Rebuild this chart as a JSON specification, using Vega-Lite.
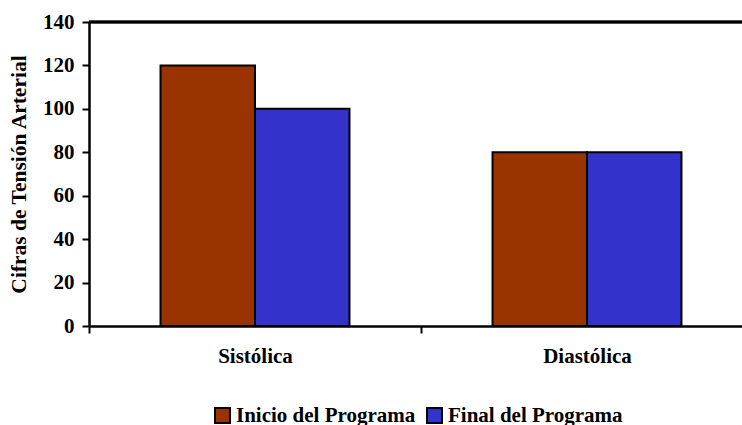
{
  "$schema": "https://vega.github.io/schema/vega-lite/v6.json",
  "autosize": "none",
  "padding": {"left": 89, "top": 22, "right": 0, "bottom": 99},
  "width": 653,
  "height": 304,
  "background": "white",
  "config": {
    "font": "Times New Roman, Liberation Serif, serif",
    "view": {"stroke": null},
    "axis": {
      "labelFont": "Times New Roman, Liberation Serif, serif",
      "labelFontWeight": "bold",
      "labelFontSize": 21,
      "labelColor": "black",
      "titleFont": "Times New Roman, Liberation Serif, serif",
      "titleFontWeight": "bold",
      "titleFontSize": 21.5,
      "titleColor": "black",
      "domainColor": "black",
      "domainWidth": 2.5,
      "tickColor": "black",
      "tickWidth": 2,
      "tickSize": 7,
      "grid": false
    },
    "legend": {
      "labelFont": "Times New Roman, Liberation Serif, serif",
      "labelFontWeight": "bold",
      "labelFontSize": 21,
      "labelColor": "black",
      "labelLimit": 400
    }
  },
  "data": {
    "values": [
      {"medida": "Sistólica", "serie": "Inicio del Programa", "valor": 120},
      {"medida": "Sistólica", "serie": "Final del Programa", "valor": 100},
      {"medida": "Diastólica", "serie": "Inicio del Programa", "valor": 80},
      {"medida": "Diastólica", "serie": "Final del Programa", "valor": 80}
    ]
  },
  "layer": [
    {
      "mark": {"type": "bar", "stroke": "black", "strokeWidth": 2, "opacity": 1},
      "encoding": {
        "x": {
          "field": "medida",
          "type": "nominal",
          "sort": ["Sistólica", "Diastólica"],
          "scale": {"type": "band", "range": [0, 664], "paddingInner": 0, "paddingOuter": 0},
          "axis": {
            "title": null,
            "labelAngle": 0,
            "tickBand": "extent",
            "labelPadding": 12,
            "domainWidth": 2.5
          }
        },
        "xOffset": {
          "field": "serie",
          "type": "nominal",
          "sort": ["Inicio del Programa", "Final del Programa"],
          "scale": {"paddingInner": 0, "paddingOuter": 0.757}
        },
        "y": {
          "field": "valor",
          "type": "quantitative",
          "scale": {"domain": [0, 140], "nice": false},
          "axis": {
            "title": "Cifras de Tensión Arterial",
            "values": [0, 20, 40, 60, 80, 100, 120, 140],
            "labelPadding": 8,
            "titlePadding": 12
          }
        },
        "color": {
          "field": "serie",
          "type": "nominal",
          "sort": ["Inicio del Programa", "Final del Programa"],
          "scale": {"domain": ["Inicio del Programa", "Final del Programa"], "range": ["#993300", "#3333CC"]},
          "legend": {
            "title": null,
            "orient": "none",
            "direction": "horizontal",
            "legendX": 123,
            "legendY": 383,
            "symbolType": "square",
            "symbolSize": 225,
            "symbolStrokeColor": "black",
            "symbolStrokeWidth": 2,
            "symbolOpacity": 1,
            "labelOffset": 3,
            "columnPadding": 7,
            "labelLimit": 400
          }
        }
      }
    },
    {
      "mark": {"type": "rule", "color": "black", "strokeWidth": 2.5},
      "encoding": {"y": {"datum": 140}}
    }
  ]
}
